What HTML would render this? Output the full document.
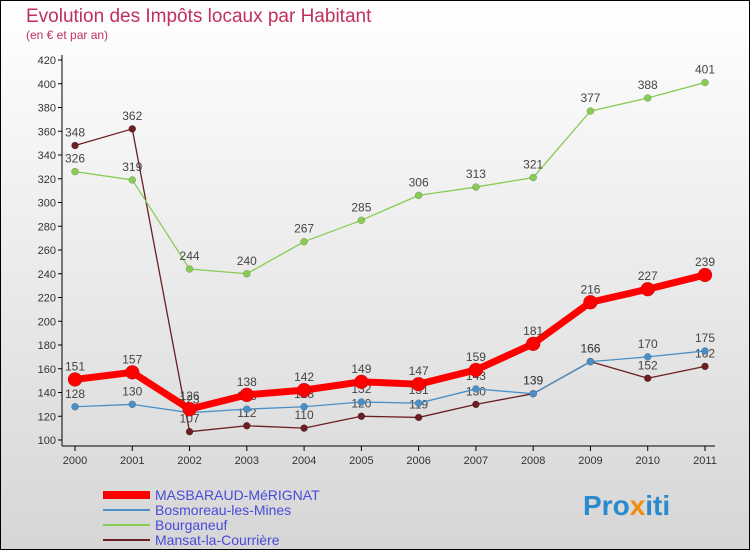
<!DOCTYPE html>
<html><head><meta charset="utf-8"><style>
html,body{margin:0;padding:0}
body{width:750px;height:550px;overflow:hidden;font-family:"Liberation Sans","DejaVu Sans",sans-serif}
#wrap{position:absolute;left:0;top:0;width:748px;height:548px;border:1px solid #000;background:linear-gradient(#ffffff,#d6d6d6)}
</style></head><body>
<div id="wrap">
<svg id="chart" width="750" height="550" style="position:absolute;left:-1px;top:-1px">
<text x="26" y="22" font-size="19" fill="#c0305a">Evolution des Impôts locaux par Habitant</text>
<text x="26" y="39" font-size="12" fill="#c0305a">(en € et par an)</text>
<g id="axes"></g><g id="series"></g>
<g>
<line x1="103" y1="495" x2="150" y2="495" stroke="#ff0000" stroke-width="8"/>
<text x="155" y="500" font-size="14" fill="#4a4ad8">MASBARAUD-MéRIGNAT</text>
<line x1="103" y1="510" x2="150" y2="510" stroke="#4a90c8" stroke-width="2"/>
<text x="155" y="515" font-size="14" fill="#4a4ad8">Bosmoreau-les-Mines</text>
<line x1="103" y1="525" x2="150" y2="525" stroke="#88cc55" stroke-width="2"/>
<text x="155" y="530" font-size="14" fill="#4a4ad8">Bourganeuf</text>
<line x1="103" y1="540" x2="150" y2="540" stroke="#6b1f24" stroke-width="2"/>
<text x="155" y="545" font-size="14" fill="#4a4ad8">Mansat-la-Courrière</text>
</g>
<text x="583" y="515" font-size="28" font-weight="bold" fill="#2a8ad0">Pro<tspan fill="#f08c10">x</tspan><tspan fill="#2a8ad0">iti</tspan></text>
</svg>
</div>
<script>
const years=["2000","2001","2002","2003","2004","2005","2006","2007","2008","2009","2010","2011"];
const yTicks=[100,120,140,160,180,200,220,240,260,280,300,320,340,360,380,400,420];
const masbaraud=[151,157,126,138,142,149,147,159,181,216,227,239];
const bosmoreau=[128,130,123,126,128,132,131,143,139,166,170,175];
const bourganeuf=[326,319,244,240,267,285,306,313,321,377,388,401];
const mansat=[348,362,107,112,110,120,119,130,139,166,152,162];
const NS="http://www.w3.org/2000/svg";
function X(i){return 75+i*(630/11);}
function Y(v){return 440-(v-100)*1.1875;}
function mk(tag,attrs,parent){const e=document.createElementNS(NS,tag);for(const k in attrs)e.setAttribute(k,attrs[k]);parent.appendChild(e);return e;}
const ax=document.getElementById('axes');
const yl=mk('line',{x1:62,y1:55,x2:62,y2:446,stroke:'#000'},ax);


const xl=mk('line',{x1:62,y1:446,x2:715,y2:446,stroke:'#000'},ax);


yTicks.forEach(v=>{
 mk('line',{x1:58,y1:Y(v),x2:62,y2:Y(v),stroke:'#000'},ax);
 const t=mk('text',{x:56,y:Y(v)+4,'font-size':11,'text-anchor':'end',fill:'#333'},ax);
 t.textContent=v;
 
 
});
years.forEach((yr,i)=>{
 mk('line',{x1:X(i),y1:446,x2:X(i),y2:451,stroke:'#000'},ax);
 const t=mk('text',{x:X(i),y:464,'font-size':11,'text-anchor':'middle',fill:'#333'},ax);
 t.textContent=yr;
 
 
});
const sg=document.getElementById('series');
function draw(data,color,w,r,name){
 const g=mk('g',{},sg);
 
 
 const pl=mk('polyline',{points:data.map((v,i)=>X(i)+','+Y(v)).join(' '),fill:'none',stroke:color,'stroke-width':w,'stroke-linejoin':'round'},g);
 
 
 data.forEach((v,i)=>{
  const c=mk('circle',{cx:X(i),cy:Y(v),r:r,fill:color,stroke:'rgba(0,0,0,0.3)','stroke-width':0.5},g);
  
  
  const t=mk('text',{x:X(i),y:Y(v)-9,'font-size':12,'text-anchor':'middle',fill:'#444'},g);
  t.textContent=v;
  
  
 });
}
draw(mansat,'#6b1f24',1.3,3.5,'mansat');
draw(bourganeuf,'#88cc55',1.3,3.5,'bourganeuf');
draw(bosmoreau,'#4a90c8',1.3,3.5,'bosmoreau');
draw(masbaraud,'#ff0000',7,7,'masbaraud');
</script>
</body></html>
